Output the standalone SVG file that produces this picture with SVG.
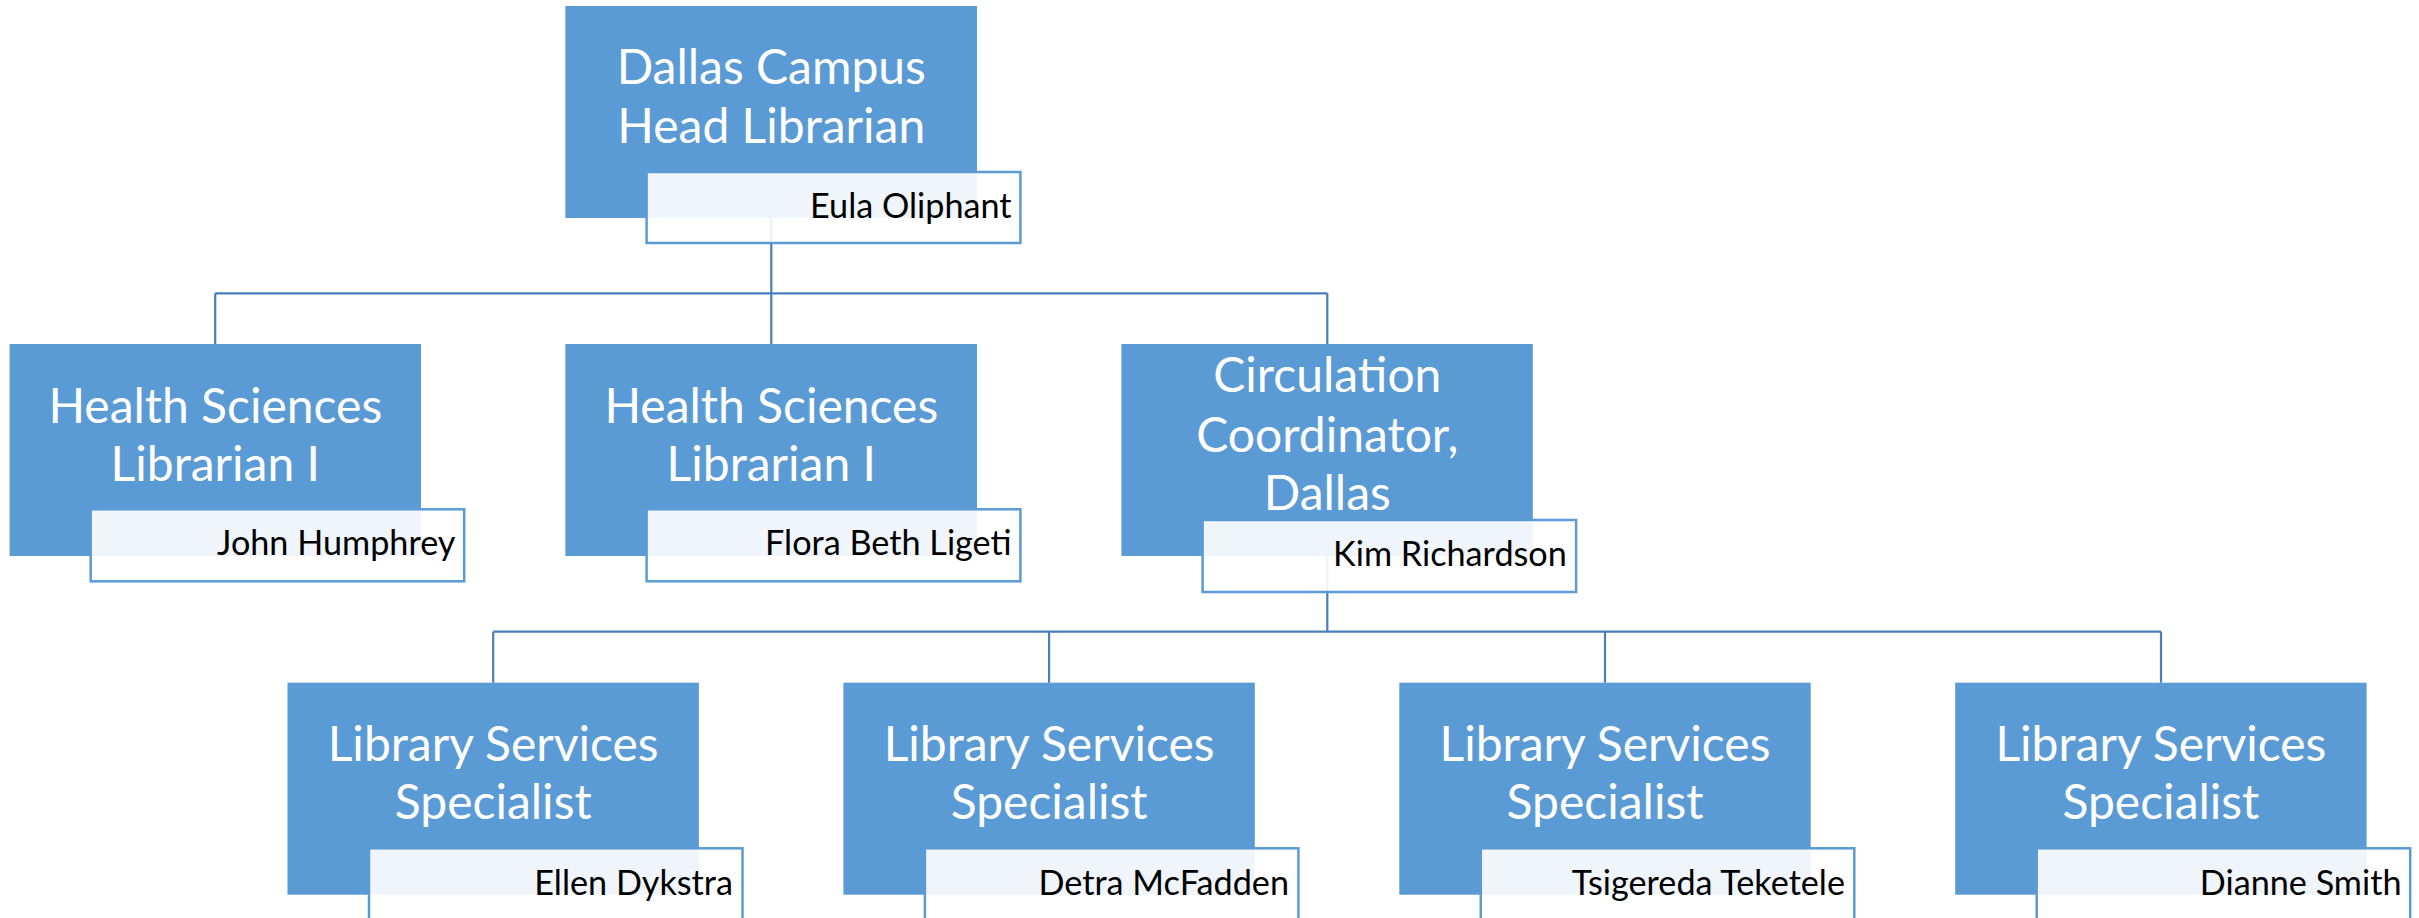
<svg xmlns="http://www.w3.org/2000/svg" width="2419" height="918" viewBox="0 0 2419 918">
<style>
.box{fill:#5b9bd5}
.nm{fill:#ffffff;fill-opacity:0.9;stroke:#5b9bd5;stroke-width:2.5}
.t{font-family:Lato,"Liberation Sans",sans-serif;font-size:48px;fill:#ffffff;text-anchor:middle}
.n{font-family:Lato,"Liberation Sans",sans-serif;font-size:34.2px;fill:#000000;text-anchor:end}
.c{fill:none;stroke:#4a7ebb;stroke-width:2.2}
</style>
<rect width="2419" height="918" fill="#ffffff"/>
<g id="connectors">
<path class="c" d="M771.3,218 V293.3 M215.2,293.3 H1327.3 M215.2,293.3 V344 M771.3,293.3 V344 M1327.3,293.3 V344"/>
<path class="c" d="M1327.3,556 V631.7 M493.2,631.7 H2161 M493.2,631.7 V682.7 M1049.1,631.7 V682.7 M1605,631.7 V682.7 M2161,631.7 V682.7"/>
</g>
<g id="n1">
<rect class="box" x="565.4" y="6" width="411.6" height="212"/>
<text class="t" x="771.3" y="84">Dallas Campus</text>
<text class="t" x="771.3" y="143">Head Librarian</text>
<rect class="nm" x="646.6" y="172" width="373.8" height="71"/>
<text class="n" x="1011.6" y="218">Eula Oliphant</text>
</g>
<g id="n2">
<rect class="box" x="9.6" y="344" width="411.4" height="212"/>
<text class="t" x="215.3" y="422.5">Health Sciences</text>
<text class="t" x="215.3" y="481">Librarian I</text>
<rect class="nm" x="90.7" y="509.3" width="373.5" height="72"/>
<text class="n" x="455.4" y="555.3">John Humphrey</text>
</g>
<g id="n3">
<rect class="box" x="565.4" y="344" width="411.6" height="212"/>
<text class="t" x="771.3" y="422.5">Health Sciences</text>
<text class="t" x="771.3" y="481">Librarian I</text>
<rect class="nm" x="646.6" y="509.3" width="373.8" height="72"/>
<text class="n" x="1011.6" y="555.3">Flora Beth Ligeti</text>
</g>
<g id="n4">
<rect class="box" x="1121.4" y="344" width="411.4" height="212"/>
<text class="t" x="1327.3" y="392">Circulation</text>
<text class="t" x="1327.3" y="451.5">Coordinator,</text>
<text class="t" x="1327.3" y="509.5">Dallas</text>
<rect class="nm" x="1202.6" y="520" width="373.5" height="72"/>
<text class="n" x="1566.8" y="566">Kim Richardson</text>
</g>
<g id="n5">
<rect class="box" x="287.5" y="682.7" width="411.4" height="212"/>
<text class="t" x="493.2" y="760.7">Library Services</text>
<text class="t" x="493.2" y="819.3">Specialist</text>
<rect class="nm" x="369" y="848.3" width="373.5" height="72"/>
<text class="n" x="733" y="894.5">Ellen Dykstra</text>
</g>
<g id="n6">
<rect class="box" x="843.4" y="682.7" width="411.4" height="212"/>
<text class="t" x="1049.1" y="760.7">Library Services</text>
<text class="t" x="1049.1" y="819.3">Specialist</text>
<rect class="nm" x="924.9" y="848.3" width="373.5" height="72"/>
<text class="n" x="1289" y="894.5">Detra McFadden</text>
</g>
<g id="n7">
<rect class="box" x="1399.3" y="682.7" width="411.4" height="212"/>
<text class="t" x="1605" y="760.7">Library Services</text>
<text class="t" x="1605" y="819.3">Specialist</text>
<rect class="nm" x="1480.8" y="848.3" width="373.5" height="72"/>
<text class="n" x="1845" y="894.5">Tsigereda Teketele</text>
</g>
<g id="n8">
<rect class="box" x="1955.2" y="682.7" width="411.4" height="212"/>
<text class="t" x="2160.9" y="760.7">Library Services</text>
<text class="t" x="2160.9" y="819.3">Specialist</text>
<rect class="nm" x="2036.7" y="848.3" width="373.5" height="72"/>
<text class="n" x="2401.5" y="894.5">Dianne Smith</text>
</g>
</svg>
